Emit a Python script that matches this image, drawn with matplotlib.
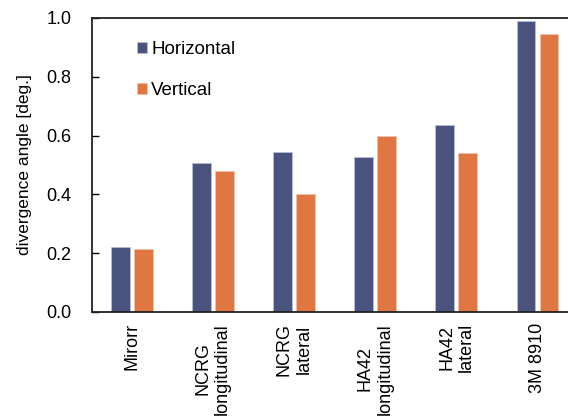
import numpy as np
import matplotlib.pyplot as plt

plt.rcParams['font.family'] = ['Liberation Sans', 'DejaVu Sans']

categories = ['Mirorr', 'NCRG\nlongitudinal', 'NCRG\nlateral',
              'HA42\nlongitudinal', 'HA42\nlateral', '3M 8910']
horizontal = [0.220, 0.506, 0.545, 0.526, 0.636, 0.990]
vertical = [0.213, 0.481, 0.402, 0.598, 0.541, 0.944]

blue = '#4a527e'
orange = '#e07642'

fig = plt.figure(figsize=(5.68, 4.16), dpi=100)
ax = fig.add_axes([92 / 568, 1 - 312 / 416, (568 - 92) / 568, 294 / 416])

x = np.arange(len(categories))
w = 0.232
ax.bar(x - 0.141, horizontal, w, color=blue, edgecolor='#b8bcd4', linewidth=0.6,
       label='Horizontal')
ax.bar(x + 0.141, vertical, w, color=orange, edgecolor='#f2c2a6', linewidth=0.6,
       label='Vertical')

ax.set_xlim(-0.49, 5.376)
ax.set_ylim(0, 1.0)
ax.set_yticks(np.arange(0, 1.01, 0.2))
ax.set_yticklabels(['%.1f' % v for v in np.arange(0, 1.01, 0.2)])
ax.set_xticks(x)
ax.set_xticklabels(categories, rotation=90, ha='center', va='top',
                   multialignment='center')

ax.tick_params(axis='y', direction='in', length=5, width=1, pad=15, labelsize=13)
ax.tick_params(axis='x', length=0, pad=8, labelsize=13)
ax.set_ylabel('divergence angle [deg.]', fontsize=12.5, labelpad=10)

for s in ['left', 'top', 'bottom']:
    ax.spines[s].set_linewidth(1.3)
    ax.spines[s].set_color('#222222')
ax.spines['right'].set_visible(False)

ax.legend(loc='upper left', bbox_to_anchor=(0.094, 0.922), frameon=False,
          borderpad=0, borderaxespad=0, handlelength=0.53, handleheight=0.53,
          handletextpad=0.25, labelspacing=1.3, fontsize=13.5)

fig.savefig('out.png', dpi=100)
